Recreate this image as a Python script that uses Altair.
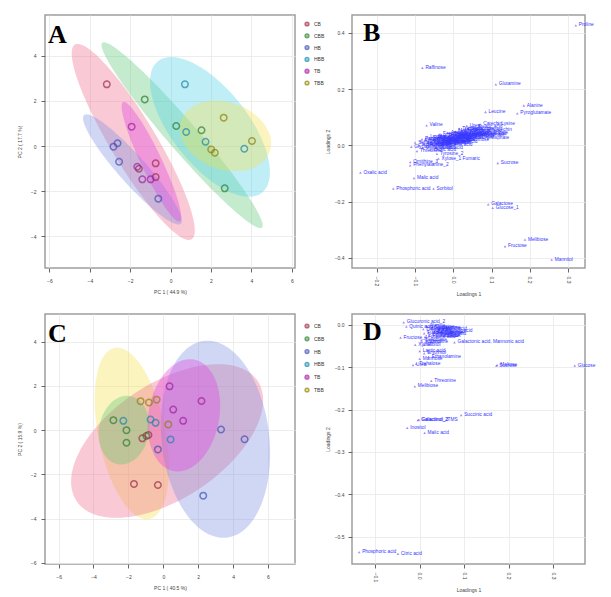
import altair as alt
import numpy as np
import pandas as pd

groups = ["CB", "CBB", "HB", "HBB", "TB", "TBB"]
fill_colors = ["#EE6A8A", "#5CC878", "#7C8FE0", "#4FD0E8", "#E040E0", "#F5E04A"]
stroke_colors = ["#9A2E48", "#2E7D32", "#3F51B5", "#1E88A8", "#A020A0", "#8E8010"]

# ---------- Panel A: PCA scores ----------
a_group = ["CB", "CB", "CB", "CB", "TB", "TB", "TB", "TB", "HB", "HB", "HB", "HB",
           "CBB", "CBB", "CBB", "CBB", "HBB", "HBB", "HBB", "HBB", "TBB", "TBB", "TBB", "TBB"]
a_pc1 = [-3.16, -0.74, -0.74, -1.57, -1.93, -0.99, -1.65, -1.40, -2.83, -2.63, -2.55, -0.61,
         -1.28, 2.68, 0.28, 1.53, 0.71, 0.77, 1.73, 3.65, 2.63, 2.01, 2.19, 4.03]
a_pc2 = [2.74, -0.77, -1.38, -1.01, 0.86, -1.48, -0.92, -1.48, -0.03, 0.12, -0.70, -2.34,
         2.07, -1.88, 0.89, 0.70, 2.74, 0.62, 0.19, -0.12, 1.26, -0.15, -0.30, 0.22]

ea_group = ["CB", "HB", "TB", "CBB", "HBB", "TBB"]
ea_cx = [-1.85, -1.89, -0.95, 0.57, 1.95, 2.72]
ea_cy = [0.18, -1.04, -0.70, 0.48, 0.85, 0.45]
ea_a = [5.2, 3.4, 3.0, 5.7, 3.9, 2.3]
ea_b = [1.1, 0.65, 0.5, 0.7, 1.8, 1.5]
ea_ang = [-56, -45, -62, -46, -47, -15]

# ---------- Panel C: PCA scores ----------
c_group = ["TBB", "TBB", "TBB", "TBB", "CBB", "CBB", "CBB", "CBB", "CB", "CB", "CB", "CB",
           "TB", "TB", "TB", "TB", "HB", "HB", "HB", "HB", "HBB", "HBB", "HBB", "HBB"]
c_pc1 = [-1.30, -0.82, -0.38, 0.29, -2.86, -2.11, -2.11, -0.97, -1.68, -1.20, -0.31, -0.85,
         0.36, 0.57, 2.19, 1.14, 3.31, 4.66, 2.29, -0.31, -2.29, -0.73, -0.44, 0.42]
c_pc2 = [1.31, 1.25, 1.38, 0.26, 0.45, 0.00, -0.57, -0.26, -2.43, -0.37, -2.48, -0.22,
         1.98, 0.93, 1.32, 0.42, 0.03, -0.41, -2.96, -0.87, 0.42, 0.48, 0.33, -0.42]

ec_group = ["TBB", "CB", "HB", "TB", "CBB"]
ec_cx = [-1.8, 0.22, 2.99, 1.18, -2.25]
ec_cy = [-0.15, -0.49, -0.41, 0.67, 0.0]
ec_a = [4.0, 5.9, 4.5, 2.6, 1.6]
ec_b = [1.9, 2.75, 3.07, 2.0, 1.4]
ec_ang = [-74, 24, 101, 70, 60]

# ---------- Panel B: loadings ----------
b_name = ["Proline", "Raffinose", "Glutamine", "Alanine", "Pyroglutamate", "Leucine", "Lysine",
          "Sucrose", "Oxalic acid", "Malic acid", "Phosphoric acid", "Sorbitol", "Galactose",
          "Glucose_1", "Melibiose", "Fructose", "Mannitol", "Valine", "Tyrosine_2",
          "Xylose_1 Fumaric", "Ornithine_3", "Phenylalanine_2",
          "Glycine", "Serine", "Threonine", "Isoleucine", "Aspartic acid", "Glutamic acid",
          "Asparagine", "Methionine", "Tryptophan", "Ornithine", "GABA", "Lactic acid",
          "Glycolic acid", "Citric acid", "Malonic acid", "Quinic acid", "Shikimic acid",
          "Caffeic acid", "Ferulic acid", "Glyceric acid", "Gluconic acid", "Threonic acid",
          "Erythritol", "Arabitol", "Xylitol", "Ribitol", "Inositol", "Mannose", "Maltose",
          "Trehalose", "Arabinose", "Rhamnose", "Ribose", "Urea", "Putrescine", "Palmitic acid",
          "Stearic acid", "Linoleic acid", "Catechin", "Epicatechin",
          "Citrulline", "Hydroxyproline", "Cysteine", "Histidine", "Arginine", "Benzoic acid",
          "Salicylic acid", "Vanillic acid", "Syringic acid", "p-Coumaric acid", "Gallic acid",
          "Protocatechuic acid", "Maleic acid", "Itaconic acid", "Pyruvic acid",
          "Glucose-6-phosphate", "Fructose-6-phosphate", "Glycerol-3-phosphate", "Myo-inositol",
          "Galactinol", "Turanose", "Sophorose", "Cellobiose", "Lyxose", "Fucose"]
b_x = [0.320, -0.081, 0.111, 0.184, 0.167, 0.084, 0.117,
       0.116, -0.243, -0.103, -0.157, -0.052, 0.091,
       0.103, 0.187, 0.135, 0.257, -0.070, -0.043,
       -0.039, -0.113, -0.113,
       -0.110, -0.100, -0.095, -0.090, -0.085, -0.080,
       -0.078, -0.072, -0.070, -0.066, -0.062, -0.060,
       -0.055, -0.052, -0.048, -0.045, -0.040,
       -0.038, -0.035, -0.030, -0.026, -0.022,
       -0.018, -0.015, -0.010, -0.005, 0.000, 0.005, 0.010,
       0.015, 0.020, 0.025, 0.030, 0.035, 0.040, 0.048,
       0.055, 0.062, 0.070, 0.080,
       -0.065, -0.058, -0.050, -0.047, -0.042, -0.036,
       -0.033, -0.028, -0.024, -0.020, -0.016,
       -0.012, -0.008, -0.004, 0.002,
       0.006, 0.012, 0.018, 0.022,
       0.028, 0.033, 0.038, 0.044, -0.068, -0.082]
b_y = [0.427, 0.276, 0.217, 0.142, 0.114, 0.119, 0.077,
       -0.063, -0.097, -0.116, -0.154, -0.154, -0.210,
       -0.222, -0.335, -0.359, -0.406, 0.071, -0.030,
       -0.047, -0.059, -0.071,
       -0.005, 0.010, -0.020, 0.000, 0.015, -0.010,
       0.005, 0.020, -0.005, 0.010, 0.025, -0.015,
       0.005, 0.018, 0.030, -0.008, 0.012,
       0.025, 0.040, 0.002, 0.018, 0.032,
       0.010, 0.045, 0.025, 0.038, 0.015, 0.050, 0.030,
       0.060, 0.040, 0.020, 0.055, 0.070, 0.035, 0.050,
       0.065, 0.040, 0.075, 0.055,
       0.002, 0.012, 0.000, 0.022, 0.008, 0.016,
       0.028, 0.010, 0.024, 0.036, 0.020,
       0.030, 0.012, 0.042, 0.026,
       0.036, 0.046, 0.028, 0.052,
       0.038, 0.046, 0.060, 0.042, 0.030, 0.022]

# ---------- Panel D: loadings ----------
d_name = ["Phosphoric acid", "Citric acid", "Glucose", "Sucrose", "Maltose", "Threonine",
          "Melibiose", "Succinic acid", "Galactinol_2TMS", "Galactinol_3", "Inositol",
          "Malic acid", "Glucuronic acid_2", "Quinic acid", "Fructose_1", "Xylitol",
          "Arabitol", "Ribitol", "Galactonic acid, Mannonic acid", "Erythritol", "Mannose",
          "Trehalose", "Ethanolamine", "Lactic acid", "Alanine", "Glycine", "Valine",
          "Leucine", "Isoleucine", "Proline", "Glutamine", "Aspartic acid", "Serine",
          "Fumaric acid", "GABA", "Urea",
          "Histidine", "Arginine", "Cysteine", "Benzoic acid", "Vanillic acid", "Gallic acid",
          "Pyruvic acid", "Turanose", "Fucose", "Lyxose", "Cellobiose", "Citrulline"]
d_x = [-0.136, -0.049, 0.348, 0.172, 0.174, 0.026,
       -0.011, 0.093, -0.004, -0.002, -0.028,
       0.011, -0.036, -0.030, -0.043, -0.010,
       0.005, 0.010, 0.078, 0.010, 0.000,
       -0.008, 0.020, 0.000, 0.015, 0.025, 0.035,
       0.045, 0.020, 0.030, 0.040, 0.050, 0.060,
       0.012, 0.055, -0.015,
       0.008, 0.018, 0.028, 0.033, 0.043, 0.048,
       0.022, 0.038, 0.010, 0.052, 0.004, 0.015]
d_y = [-0.537, -0.541, -0.096, -0.096, -0.095, -0.132,
       -0.145, -0.213, -0.225, -0.224, -0.243,
       -0.255, 0.006, -0.004, -0.030, -0.047,
       -0.040, -0.047, -0.041, -0.067, -0.080,
       -0.092, -0.075, -0.062, -0.003, -0.008, -0.012,
       -0.006, -0.018, -0.022, -0.020, -0.015, -0.020,
       -0.028, -0.025, -0.095,
       -0.010, -0.012, -0.005, -0.016, -0.010, -0.022,
       -0.025, -0.026, -0.020, -0.008, -0.036, -0.041]

FONT = "Liberation Sans"


def ellipse_df(g, cx, cy, a, b, ang, n=120):
    rows = []
    t = np.linspace(0, 2 * np.pi, n)
    for gg, x0, y0, aa, bb, ph in zip(g, cx, cy, a, b, ang):
        p = np.deg2rad(ph)
        xs = x0 + aa * np.cos(t) * np.cos(p) - bb * np.sin(t) * np.sin(p)
        ys = y0 + aa * np.cos(t) * np.sin(p) + bb * np.sin(t) * np.cos(p)
        for i, (x, y) in enumerate(zip(xs, ys)):
            rows.append({"group": gg, "x": x, "y": y, "order": i})
    return pd.DataFrame(rows)


def letter(ch, xpx, ypx):
    return alt.Chart(pd.DataFrame({"t": [ch]})).mark_text(
        font="Liberation Serif", fontWeight="bold", fontSize=26, align="left",
        baseline="alphabetic", color="black"
    ).encode(text="t:N", x=alt.value(xpx), y=alt.value(ypx))


def score_panel(pg, px, py, eg, ecx, ecy, ea, eb, eang, xdom, ydom, xticks, yticks,
                xtitle, ytitle, w, h, ch, leg_y, row_pad):
    pts = pd.DataFrame({"group": pg, "pc1": px, "pc2": py})
    ells = ellipse_df(eg, ecx, ecy, ea, eb, eang)
    xs = alt.Scale(domain=xdom, nice=False, zero=False)
    ys = alt.Scale(domain=ydom, nice=False, zero=False)
    xax = alt.Axis(values=xticks, title=xtitle, format="d", labelPadding=6, titlePadding=6)
    yax = alt.Axis(values=yticks, title=ytitle, format="d", labelPadding=5, titlePadding=8)
    ell = alt.Chart(ells).mark_line(filled=True, fillOpacity=0.36, strokeOpacity=0, clip=True).encode(
        x=alt.X("x:Q", scale=xs, axis=xax),
        y=alt.Y("y:Q", scale=ys, axis=yax),
        fill=alt.Fill("group:N", scale=alt.Scale(domain=groups, range=fill_colors),
                      legend=alt.Legend(orient="none", legendX=w + 9, legendY=leg_y, title=None,
                                        symbolType="circle", symbolSize=14, labelFontSize=5,
                                        labelFont=FONT, rowPadding=row_pad, symbolOpacity=0.7,
                                        labelColor="#333")),
        detail="group:N",
        order="order:Q",
    )
    pt = alt.Chart(pts).mark_point(shape="circle", filled=False, size=42, strokeWidth=1.5).encode(
        x=alt.X("pc1:Q", scale=xs),
        y=alt.Y("pc2:Q", scale=ys),
        stroke=alt.Stroke("group:N", scale=alt.Scale(domain=groups, range=stroke_colors), legend=None),
    )
    return alt.layer(ell, pt, letter(ch, 3, 28)).properties(width=w, height=h)


def loading_panel(names, lx, ly, xdom, ydom, xticks, yticks, w, h, ch):
    df = pd.DataFrame({"name": names, "l1": lx, "l2": ly})
    xs = alt.Scale(domain=xdom, nice=False, zero=False)
    ys = alt.Scale(domain=ydom, nice=False, zero=False)
    base = alt.Chart(df).encode(
        x=alt.X("l1:Q", scale=xs, axis=alt.Axis(values=xticks, title="Loadings 1", format=".1f",
                                                labelAngle=90, labelPadding=4, titlePadding=6)),
        y=alt.Y("l2:Q", scale=ys, axis=alt.Axis(values=yticks, title="Loadings 2", format=".1f",
                                                labelPadding=4, titlePadding=4)),
    )
    mk = base.mark_point(shape="triangle-up", filled=True, size=7, color="#7b5cf0")
    tx = base.mark_text(align="left", baseline="middle", dx=3, fontSize=4.8, font=FONT,
                        color="#3535ff").encode(text="name:N")
    return alt.layer(mk, tx, letter(ch, 11, 26)).properties(width=w, height=h)


A = score_panel(a_group, a_pc1, a_pc2, ea_group, ea_cx, ea_cy, ea_a, ea_b, ea_ang,
                [-6.22, 6.16], [-5.42, 5.82], [-6, -4, -2, 0, 2, 4, 6], [-4, -2, 0, 2, 4],
                "PC 1 ( 44.9 %)", "PC 2 ( 17.7 %)", 250, 253, "A", 6, 1.8)
B = loading_panel(b_name, b_x, b_y, [-0.265, 0.344], [-0.436, 0.464],
                  [-0.2, -0.1, 0.0, 0.1, 0.2, 0.3], [-0.4, -0.2, 0.0, 0.2, 0.4], 233, 253, "B")
C = score_panel(c_group, c_pc1, c_pc2, ec_group, ec_cx, ec_cy, ec_a, ec_b, ec_ang,
                [-6.78, 7.55], [-6.05, 5.25], [-6, -4, -2, 0, 2, 4, 6], [-6, -4, -2, 0, 2, 4],
                "PC 1 ( 40.5 %)", "PC 2 ( 15.9 %)", 250, 250, "C", 9, 2.8)
D = loading_panel(d_name, d_x, d_y, [-0.152, 0.371], [-0.565, 0.026],
                  [-0.1, 0.0, 0.1, 0.2, 0.3], [-0.5, -0.4, -0.3, -0.2, -0.1, 0.0], 233, 250, "D")

chart = alt.concat(A, B, C, D, columns=2, spacing={"row": 46, "column": 57}, bounds="flush").resolve_scale(
    fill="independent", stroke="independent"
).resolve_legend(fill="independent", stroke="independent").properties(
    padding={"left": 16, "top": 14, "right": 5, "bottom": 5}
).configure_view(
    stroke="#9e9e9e", strokeWidth=1.5
).configure_axis(
    grid=True, gridColor="#e8e8e8", gridWidth=0.8, domain=False, tickColor="#666", tickSize=4,
    labelFontSize=5, labelColor="#444", titleFontSize=5, titleFontWeight="normal",
    labelFont=FONT, titleFont=FONT, titleColor="#444"
)

chart.save("out.html", embed_options={"renderer": "svg", "actions": False})
